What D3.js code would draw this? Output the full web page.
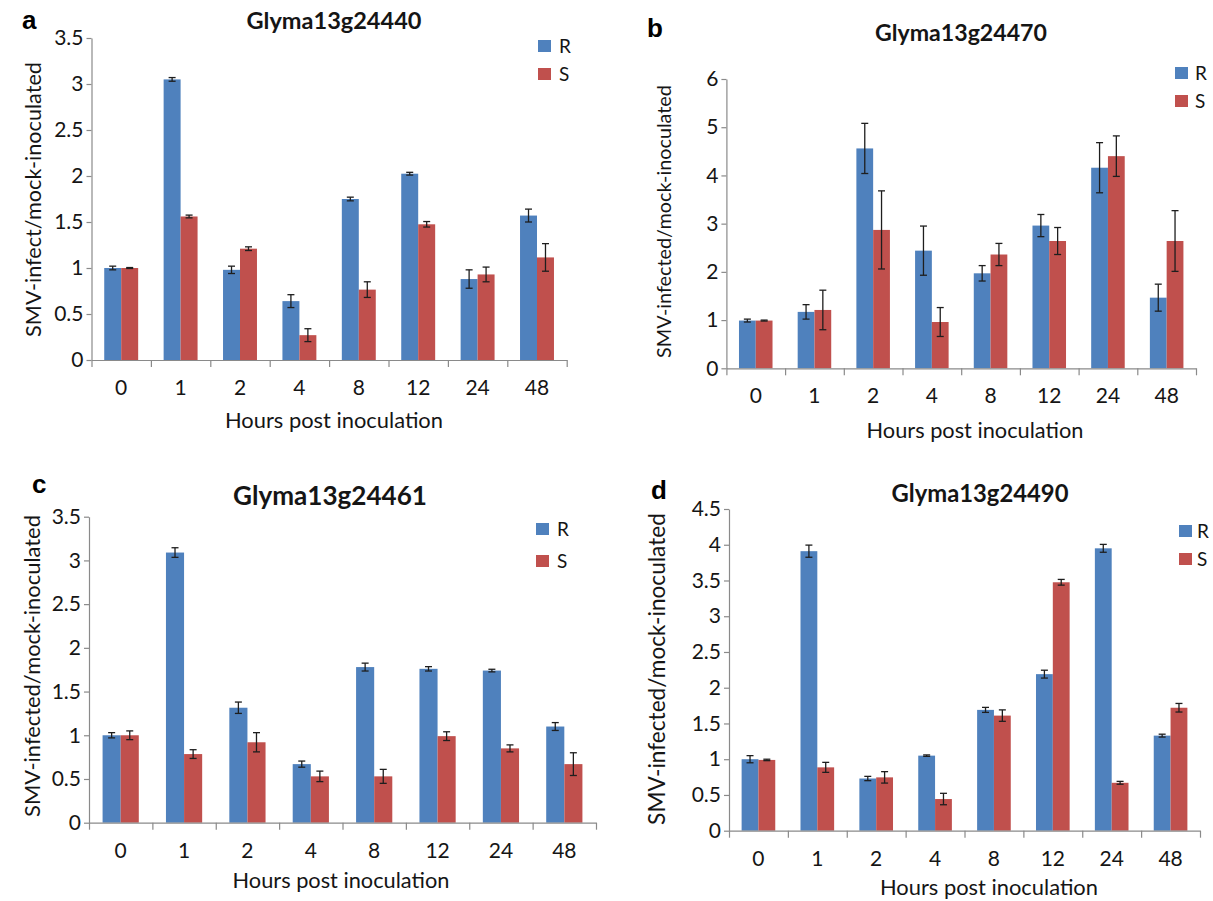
<!DOCTYPE html>
<html>
<head>
<meta charset="utf-8">
<script src="https://cdn.jsdelivr.net/npm/d3@7"></script>
<style>
  body { margin: 0; background: #fff; }
  svg { display: block; }
  text { font-family: Lato, "Open Sans", sans-serif; fill: #151515; }
  .axis path, .axis line { stroke: #8a8a8a; stroke-width: 1.2; }
  .axis text { font-size: 21px; }
  .letter { font-family: "Liberation Sans", Arial, sans-serif; font-weight: bold; font-size: 26px; fill: #000; }
</style>
</head>
<body>
<svg id="fig" width="1213" height="901"></svg>
<script>
// ---- data ----
var hours = ["0", "1", "2", "4", "8", "12", "24", "48"];
var lines = ["R", "S"];

// a: Glyma13g24440
var a_R    = [1.00, 3.05, 0.98, 0.64, 1.75, 2.025, 0.88, 1.57];
var a_Rerr = [0.02, 0.02, 0.04, 0.07, 0.02, 0.015, 0.10, 0.07];
var a_S    = [1.00, 1.56, 1.21, 0.27, 0.765, 1.475, 0.93, 1.115];
var a_Serr = [0.005, 0.015, 0.02, 0.07, 0.085, 0.03, 0.08, 0.15];
var a_ticks = [0, 0.5, 1, 1.5, 2, 2.5, 3, 3.5];

// b: Glyma13g24470
var b_R    = [0.99, 1.17, 4.56, 2.44, 1.97, 2.96, 4.16, 1.465];
var b_Rerr = [0.03, 0.15, 0.52, 0.51, 0.16, 0.23, 0.52, 0.28];
var b_S    = [0.99, 1.21, 2.87, 0.96, 2.36, 2.64, 4.40, 2.64];
var b_Serr = [0.01, 0.41, 0.81, 0.30, 0.23, 0.28, 0.42, 0.63];
var b_ticks = [0, 1, 2, 3, 4, 5, 6];

// c: Glyma13g24461
var c_R    = [1.00, 3.09, 1.315, 0.67, 1.78, 1.76, 1.74, 1.10];
var c_Rerr = [0.03, 0.055, 0.065, 0.035, 0.045, 0.025, 0.015, 0.045];
var c_S    = [1.00, 0.785, 0.92, 0.53, 0.53, 0.99, 0.85, 0.67];
var c_Serr = [0.05, 0.05, 0.11, 0.06, 0.08, 0.05, 0.04, 0.13];
var c_ticks = [0, 0.5, 1, 1.5, 2, 2.5, 3, 3.5];

// d: Glyma13g24490
var d_R    = [1.00, 3.91, 0.73, 1.05, 1.69, 2.19, 3.95, 1.33];
var d_Rerr = [0.05, 0.085, 0.03, 0.01, 0.035, 0.055, 0.055, 0.02];
var d_S    = [0.99, 0.886, 0.746, 0.443, 1.61, 3.475, 0.67, 1.72];
var d_Serr = [0.01, 0.07, 0.08, 0.08, 0.08, 0.04, 0.02, 0.06];
var d_ticks = [0, 0.5, 1, 1.5, 2, 2.5, 3, 3.5, 4, 4.5];

var color = d3.scaleOrdinal().domain(lines).range(["#4f81bd", "#c0504d"]);

// ---- layout of the four panels ----
var panels = [
  { letter: "a", title: "Glyma13g24440", ytitle: "SMV-infect/mock-inoculated",
    R: a_R, Rerr: a_Rerr, S: a_S, Serr: a_Serr, ticks: a_ticks,
    x0: 91.5, x1: 566.7, y0: 360, y1: 38,
    letterPos: [22, 29], titlePos: [334, 29, 175], ytitlePos: [41, 199.5, 275],
    xtitlePos: [334, 428, 218], legend: [538, 40, 28, 559] },
  { letter: "b", title: "Glyma13g24470", ytitle: "SMV-infected/mock-inoculated",
    R: b_R, Rerr: b_Rerr, S: b_S, Serr: b_Serr, ticks: b_ticks,
    x0: 726.4, x1: 1196, y0: 368.3, y1: 79,
    letterPos: [647, 37], titlePos: [961, 41, 172], ytitlePos: [671, 221.5, 273],
    xtitlePos: [975, 438, 217], legend: [1175, 67, 28, 1195] },
  { letter: "c", title: "Glyma13g24461", ytitle: "SMV-infected/mock-inoculated",
    R: c_R, Rerr: c_Rerr, S: c_S, Serr: c_Serr, ticks: c_ticks,
    x0: 89, x1: 596, y0: 822.7, y1: 516.7,
    letterPos: [32, 493], titlePos: [330, 505, 194], ytitlePos: [40, 666, 302],
    xtitlePos: [341, 888, 217], legend: [536, 523, 32, 557] },
  { letter: "d", title: "Glyma13g24490", ytitle: "SMV-infected/mock-inoculated",
    R: d_R, Rerr: d_Rerr, S: d_S, Serr: d_Serr, ticks: d_ticks,
    x0: 729, x1: 1200, y0: 830.7, y1: 509,
    letterPos: [651, 499], titlePos: [980, 502, 177], ytitlePos: [665, 669, 312],
    xtitlePos: [989, 895, 218], legend: [1179, 525, 28, 1197] }
];

var svg = d3.select("#fig");

// shrink/grow a text to the width measured on the figure
function fit(t, base, target) {
  t.style("font-size", base + "px");
  var len = t.node().getComputedTextLength();
  t.style("font-size", (base * target / len).toFixed(2) + "px");
}

panels.forEach(function(p) {
  var g = svg.append("g");
  var ymax = p.ticks[p.ticks.length - 1];

  var y = d3.scaleLinear().domain([0, ymax]).range([p.y0, p.y1]);
  var x = d3.scaleBand().domain(hours).range([p.x0, p.x1]);
  var xs = d3.scaleBand().domain(lines).range([0, x.bandwidth()])
             .paddingInner(0).paddingOuter(0.75);
  var edges = d3.scalePoint().domain(d3.range(hours.length + 1)).range([p.x0, p.x1]);

  // bars
  var rows = hours.map(function(h, i) {
    return { h: h, vals: [
      { k: "R", v: p.R[i], e: p.Rerr[i] },
      { k: "S", v: p.S[i], e: p.Serr[i] } ] };
  });

  var grp = g.selectAll(".grp").data(rows).enter().append("g")
      .attr("transform", function(d) { return "translate(" + x(d.h) + ",0)"; });

  grp.selectAll("rect").data(function(d) { return d.vals; }).enter().append("rect")
      .attr("x", function(d) { return xs(d.k); })
      .attr("width", xs.bandwidth())
      .attr("y", function(d) { return y(d.v); })
      .attr("height", function(d) { return y(0) - y(d.v); })
      .attr("fill", function(d) { return color(d.k); });

  // error bars
  var eb = grp.selectAll(".err").data(function(d) { return d.vals; }).enter().append("g")
      .attr("transform", function(d) { return "translate(" + (xs(d.k) + xs.bandwidth() / 2) + ",0)"; })
      .attr("stroke", "#1e1e1e").attr("stroke-width", 1.3);
  eb.append("line").attr("x1", 0).attr("x2", 0)
      .attr("y1", function(d) { return y(d.v - d.e); })
      .attr("y2", function(d) { return y(d.v + d.e); });
  eb.append("line").attr("x1", -3.5).attr("x2", 3.5)
      .attr("y1", function(d) { return y(d.v + d.e); })
      .attr("y2", function(d) { return y(d.v + d.e); });
  eb.append("line").attr("x1", -3.5).attr("x2", 3.5)
      .attr("y1", function(d) { return y(d.v - d.e); })
      .attr("y2", function(d) { return y(d.v - d.e); });

  // y axis
  g.append("g").attr("class", "axis")
      .attr("transform", "translate(" + p.x0 + ",0)")
      .call(d3.axisLeft(y).tickValues(p.ticks).tickSize(5).tickSizeOuter(0)
              .tickPadding(3).tickFormat(d3.format("~g")))
      .call(function(s) { s.selectAll("text").attr("fill", "#151515"); });

  // x axis: boundary ticks + centred labels
  g.append("g").attr("class", "axis")
      .attr("transform", "translate(0," + p.y0 + ")")
      .call(d3.axisBottom(edges).tickSize(7).tickSizeOuter(0).tickFormat(""));
  g.append("g").attr("class", "axis")
      .attr("transform", "translate(0," + p.y0 + ")")
      .call(d3.axisBottom(x).tickSize(0).tickPadding(20))
      .call(function(s) {
        s.select(".domain").remove();
        s.selectAll("text").attr("fill", "#151515");
      });

  // titles
  var t = g.append("text").attr("x", p.titlePos[0]).attr("y", p.titlePos[1])
      .attr("text-anchor", "middle").style("font-weight", "bold").text(p.title);
  fit(t, 22, p.titlePos[2]);

  var yt = g.append("text")
      .attr("transform", "translate(" + p.ytitlePos[0] + "," + p.ytitlePos[1] + ") rotate(-90)")
      .attr("text-anchor", "middle").text(p.ytitle);
  fit(yt, 20, p.ytitlePos[2]);

  var xt = g.append("text").attr("x", p.xtitlePos[0]).attr("y", p.xtitlePos[1])
      .attr("text-anchor", "middle").text("Hours post inoculation");
  fit(xt, 20, p.xtitlePos[2]);

  g.append("text").attr("class", "letter")
      .attr("x", p.letterPos[0]).attr("y", p.letterPos[1]).text(p.letter);

  // legend
  var lg = g.selectAll(".leg").data(lines).enter().append("g")
      .attr("transform", function(d, i) {
        return "translate(" + p.legend[0] + "," + (p.legend[1] + i * p.legend[2]) + ")";
      });
  lg.append("rect").attr("width", 13).attr("height", 12)
      .attr("fill", function(d) { return color(d); });
  lg.append("text").attr("x", p.legend[3] - p.legend[0]).attr("y", 6)
      .attr("dy", "0.36em").style("font-size", "19px").text(function(d) { return d; });
});
</script>
</body>
</html>
